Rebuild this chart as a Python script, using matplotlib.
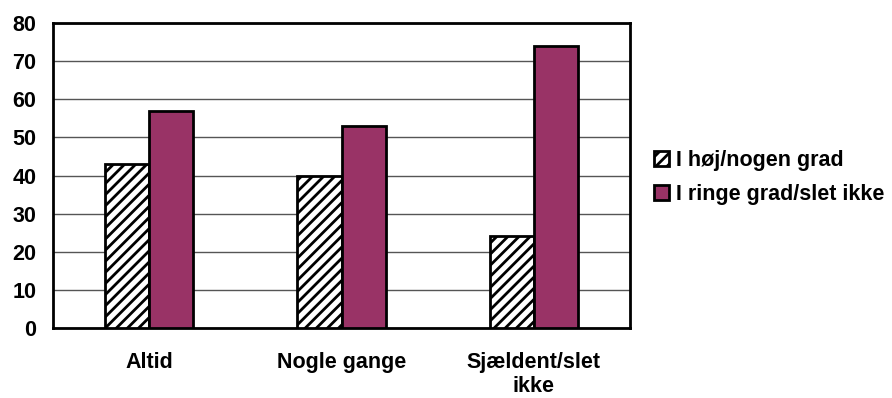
import matplotlib
matplotlib.use("Agg")
import matplotlib.pyplot as plt
import numpy as np

categories = ["Altid", "Nogle gange", "Sjældent/slet\nikke"]
series_names = ["I høj/nogen grad", "I ringe grad/slet ikke"]
high_some = [43, 40, 24]
low_none = [57, 53, 74]
y_ticks = [0, 10, 20, 30, 40, 50, 60, 70, 80]

plt.rcParams['font.family'] = ['Liberation Sans', 'DejaVu Sans']
plt.rcParams['font.weight'] = 'bold'
plt.rcParams['hatch.linewidth'] = 2.0

fig = plt.figure(figsize=(8.92, 3.98), dpi=100)
ax = fig.add_axes([0.0594, 0.176, 0.647, 0.766])

x = np.arange(len(categories))
w = 0.23
purple = "#993366"
fs = 15.5

b1 = ax.bar(x - w / 2, high_some, w, facecolor="white", edgecolor="black",
            hatch="///", linewidth=2, label=series_names[0], zorder=3)
b2 = ax.bar(x + w / 2, low_none, w, facecolor=purple, edgecolor="black",
            linewidth=2, label=series_names[1], zorder=3)

ax.set_xlim(-0.5, 2.5)
ax.set_ylim(0, 80)
ax.set_yticks(y_ticks)
ax.set_xticks(x)
ax.set_xticklabels(categories, fontsize=fs, fontweight='bold', linespacing=1.2)
ax.tick_params(axis='y', length=0, labelsize=fs, pad=12)
ax.tick_params(axis='x', length=0, labelsize=fs, pad=17)
for lbl in ax.get_yticklabels():
    lbl.set_fontweight('bold')
ax.yaxis.grid(True, color="#555555", linewidth=1)
ax.set_axisbelow(True)
for s in ax.spines.values():
    s.set_linewidth(2)
    s.set_color("black")

leg = fig.legend(handles=[b1, b2], labels=series_names, loc="upper left",
                 bbox_to_anchor=(0.724, 0.645), frameon=False, fontsize=fs,
                 handlelength=0.7, handleheight=0.7, handletextpad=0.3,
                 labelspacing=0.6, borderaxespad=0)
for t in leg.get_texts():
    t.set_fontweight('bold')

fig.savefig("out.png", dpi=100)
